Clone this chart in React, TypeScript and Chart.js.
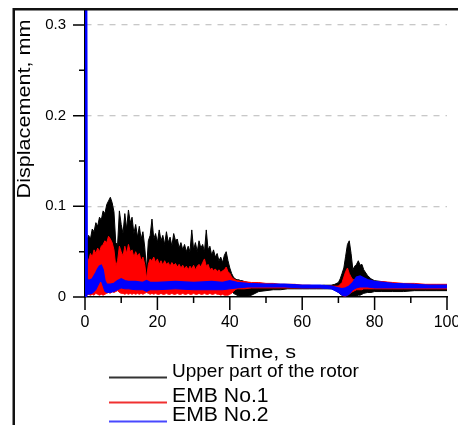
import React, { useEffect, useRef } from 'react';
import { Chart, registerables } from 'chart.js';

Chart.register(...registerables);

// Shared time grid (s) for the rotor and EMB No.1 envelopes
const timeFine = [
  0, 0.5, 1, 1.5, 2, 2.5, 3, 3.5, 4, 4.5,
  5, 5.5, 6, 6.5, 7, 7.5, 8, 8.5, 9, 9.5,
  10, 10.5, 11, 11.5, 12, 12.5, 13, 13.5, 14, 14.5,
  15, 15.5, 16, 16.5, 17, 17.5, 18, 18.5, 19, 19.5,
  20, 20.5, 21, 21.5, 22, 22.5, 23, 23.5, 24, 24.5,
  25, 25.5, 26, 26.5, 27, 27.5, 28, 28.5, 29, 29.5,
  30, 30.5, 31, 31.5, 32, 32.5, 33, 33.5, 34, 34.5,
  35, 35.5, 36, 36.5, 37, 37.5, 38, 38.5, 39, 39.5,
  40, 40.5, 41, 41.5, 42, 42.5, 43, 43.5, 44,
  46, 48, 50, 52, 54, 56, 58, 60, 62, 64, 66, 68,
  69, 70, 70.5, 71, 71.5, 72, 72.5, 73, 73.5, 74, 74.5, 75, 75.5, 76, 76.5, 77, 78, 79, 80,
  82, 85, 88, 91, 94, 97, 100,
];

// Upper part of the rotor: upper / lower envelope (mm)
const rotorUpper = [
  0.055, 0.062, 0.068, 0.064, 0.075, 0.072, 0.082, 0.078, 0.088, 0.085,
  0.095, 0.092, 0.102, 0.106, 0.110, 0.104, 0.094, 0.060, 0.058, 0.095,
  0.080, 0.070, 0.092, 0.075, 0.096, 0.082, 0.088, 0.070, 0.080, 0.066,
  0.078, 0.064, 0.072, 0.055, 0.030, 0.062, 0.068, 0.086, 0.064, 0.070,
  0.060, 0.074, 0.062, 0.068, 0.058, 0.072, 0.060, 0.066, 0.056, 0.070,
  0.062, 0.064, 0.054, 0.060, 0.052, 0.058, 0.050, 0.056, 0.050, 0.074,
  0.052, 0.060, 0.050, 0.062, 0.054, 0.058, 0.050, 0.074, 0.052, 0.056,
  0.046, 0.052, 0.044, 0.048, 0.040, 0.044, 0.038, 0.046, 0.050, 0.040,
  0.032, 0.026, 0.022, 0.020, 0.019, 0.019, 0.018, 0.018, 0.017,
  0.015, 0.015, 0.014, 0.014, 0.013, 0.013, 0.012, 0.012, 0.012, 0.012, 0.013, 0.013,
  0.014, 0.016, 0.020, 0.026, 0.032, 0.045, 0.058, 0.062, 0.048, 0.030, 0.034, 0.036, 0.040, 0.035, 0.036, 0.030, 0.024, 0.020, 0.018,
  0.017, 0.015, 0.014, 0.014, 0.013, 0.013, 0.013,
];
const rotorLower = [
  0.010, 0.010, 0.010, 0.010, 0.010, 0.010, 0.010, 0.010, 0.010, 0.010,
  0.010, 0.010, 0.010, 0.010, 0.010, 0.010, 0.010, 0.010, 0.010, 0.010,
  0.010, 0.010, 0.010, 0.010, 0.010, 0.010, 0.010, 0.010, 0.010, 0.010,
  0.010, 0.010, 0.010, 0.010, 0.010, 0.010, 0.010, 0.010, 0.010, 0.010,
  0.010, 0.010, 0.010, 0.010, 0.010, 0.010, 0.010, 0.010, 0.010, 0.010,
  0.010, 0.010, 0.010, 0.010, 0.010, 0.010, 0.010, 0.010, 0.010, 0.010,
  0.010, 0.010, 0.010, 0.010, 0.010, 0.010, 0.010, 0.010, 0.010, 0.010,
  0.010, 0.010, 0.010, 0.010, 0.010, 0.010, 0.010, 0.010, 0.010, 0.010,
  0.008, 0.006, 0.004, 0.003, 0.002, 0.001, 0.000, 0.000, 0.000,
  0.002, 0.006, 0.007, 0.008, 0.008, 0.009, 0.009, 0.009, 0.009, 0.009, 0.009, 0.009,
  0.008, 0.005, 0.003, 0.002, 0.001, 0.001, 0.001, 0.001, 0.001, 0.001, 0.001, 0.001, 0.002, 0.002, 0.003, 0.004, 0.005, 0.005, 0.006,
  0.006, 0.006, 0.006, 0.007, 0.007, 0.007, 0.007,
];

// EMB No.1: upper / lower envelope (mm)
const emb1Upper = [
  0.030, 0.045, 0.040, 0.048, 0.044, 0.052, 0.048, 0.054, 0.050, 0.056,
  0.058, 0.062, 0.060, 0.067, 0.064, 0.060, 0.052, 0.034, 0.040, 0.056,
  0.050, 0.045, 0.056, 0.048, 0.058, 0.050, 0.052, 0.044, 0.050, 0.045,
  0.048, 0.040, 0.044, 0.036, 0.020, 0.036, 0.042, 0.040, 0.044, 0.038,
  0.042, 0.036, 0.040, 0.035, 0.040, 0.036, 0.038, 0.034, 0.038, 0.035,
  0.037, 0.033, 0.036, 0.032, 0.035, 0.031, 0.034, 0.030, 0.034, 0.031,
  0.035, 0.030, 0.034, 0.036, 0.033, 0.038, 0.042, 0.034, 0.036, 0.030,
  0.032, 0.029, 0.031, 0.028, 0.030, 0.027, 0.029, 0.030, 0.033, 0.028,
  0.026, 0.022, 0.020, 0.019, 0.018, 0.018, 0.017, 0.017, 0.017,
  0.016, 0.016, 0.015, 0.015, 0.014, 0.014, 0.014, 0.013, 0.013, 0.012, 0.012, 0.012,
  0.012, 0.012, 0.014, 0.016, 0.022, 0.028, 0.032, 0.026, 0.022, 0.019, 0.019, 0.019, 0.020, 0.020, 0.020, 0.019, 0.018, 0.018, 0.017,
  0.017, 0.016, 0.015, 0.015, 0.014, 0.014, 0.014,
];
const emb1Lower = [
  0.000, 0.002, 0.003, 0.002, 0.003, 0.002, 0.004, 0.003, 0.002, 0.003,
  0.002, 0.003, 0.004, 0.005, 0.004, 0.006, 0.005, 0.006, 0.007, 0.005,
  0.004, 0.004, 0.003, 0.004, 0.003, 0.004, 0.003, 0.004, 0.003, 0.004,
  0.003, 0.004, 0.003, 0.004, 0.005, 0.004, 0.003, 0.004, 0.003, 0.004,
  0.003, 0.003, 0.004, 0.003, 0.003, 0.004, 0.003, 0.003, 0.004, 0.003,
  0.003, 0.004, 0.003, 0.003, 0.004, 0.003, 0.003, 0.004, 0.003, 0.003,
  0.004, 0.003, 0.003, 0.004, 0.003, 0.003, 0.004, 0.003, 0.003, 0.004,
  0.003, 0.003, 0.004, 0.003, 0.003, 0.002, 0.003, 0.002, 0.002, 0.002,
  0.003, 0.004, 0.006, 0.008, 0.009, 0.009, 0.009, 0.009, 0.009,
  0.010, 0.010, 0.010, 0.010, 0.010, 0.010, 0.010, 0.010, 0.010, 0.010, 0.010, 0.010,
  0.009, 0.006, 0.004, 0.002, 0.001, 0.001, 0.002, 0.003, 0.005, 0.006, 0.007, 0.008, 0.008, 0.008, 0.008, 0.009, 0.009, 0.009, 0.009,
  0.009, 0.009, 0.009, 0.009, 0.009, 0.009, 0.009,
];

// EMB No.2: time grid and upper / lower envelope (mm)
const emb2Time = [
  0, 0.45, 0.6, 1, 2, 3, 3.5, 4, 4.5, 5, 5.5,
  6, 7, 8, 9, 10, 11, 12, 14, 16, 17,
  18, 20, 25, 30, 35, 38, 40, 42, 45, 50,
  55, 60, 65, 68, 70, 71, 72, 73, 74, 75,
  76, 77, 78, 80, 85, 90, 95, 100,
];
const emb2Upper = [
  0.330, 0.330, 0.020, 0.018, 0.020, 0.027, 0.031, 0.034, 0.035, 0.030, 0.018,
  0.014, 0.014, 0.015, 0.018, 0.020, 0.018, 0.017, 0.017, 0.016, 0.018,
  0.016, 0.016, 0.017, 0.016, 0.017, 0.016, 0.018, 0.016, 0.015, 0.014,
  0.014, 0.013, 0.013, 0.012, 0.010, 0.009, 0.010, 0.012, 0.016, 0.022,
  0.023, 0.021, 0.019, 0.017, 0.015, 0.014, 0.013, 0.013,
];
const emb2Lower = [
  0.000, 0.000, 0.003, 0.003, 0.004, 0.008, 0.012, 0.016, 0.018, 0.012, 0.006,
  0.005, 0.005, 0.006, 0.008, 0.010, 0.009, 0.009, 0.008, 0.008, 0.006,
  0.008, 0.008, 0.009, 0.008, 0.008, 0.008, 0.009, 0.010, 0.011, 0.011,
  0.011, 0.010, 0.010, 0.009, 0.005, 0.002, 0.001, 0.003, 0.008, 0.010,
  0.011, 0.011, 0.011, 0.010, 0.010, 0.010, 0.010, 0.010,
];

const yTickValues = [0, 0.1, 0.2, 0.3];
const yTickLabels = ['0', '0.1', '0.2', '0.3'];
const yMinorValues = [0.05, 0.15, 0.25];
const xTickValues = [0, 20, 40, 60, 80, 100];
const xTickLabels = ['0', '20', '40', '60', '80', '100'];
const xMinorValues = [10, 30, 50, 70, 90];

const seriesNames = ['Upper part of the rotor', 'EMB No.1', 'EMB No.2'];
const seriesColors = ['#000000', '#ff0000', '#0000ff'];
const legendColors = ['#333333', '#f03030', '#4848ff'];
const xTitle = 'Time, s';
const yTitle = 'Displacement, mm';

const FONT = '"Liberation Sans", Arial, Helvetica, sans-serif';

const pts = (t: number[], v: number[]) => t.map((x, i) => ({ x, y: v[i] }));

const zeroPadding = (s: any) => {
  s.paddingTop = 0;
  s.paddingBottom = 0;
  s.paddingLeft = 0;
  s.paddingRight = 0;
};

const decorPlugin = {
  id: 'decor',
  afterDraw(chart: any) {
    const ctx = chart.ctx as CanvasRenderingContext2D;
    const xs = chart.scales.x;
    const ys = chart.scales.y;
    const left = chart.chartArea.left;
    const bottom = chart.chartArea.bottom;
    ctx.save();
    // tick marks
    ctx.strokeStyle = '#000';
    ctx.lineWidth = 1.5;
    ctx.beginPath();
    for (const v of yTickValues) {
      const py = ys.getPixelForValue(v);
      ctx.moveTo(left - 12, py);
      ctx.lineTo(left, py);
    }
    for (const v of yMinorValues) {
      const py = ys.getPixelForValue(v);
      ctx.moveTo(left - 6, py);
      ctx.lineTo(left, py);
    }
    for (const v of xTickValues) {
      const px = xs.getPixelForValue(v);
      ctx.moveTo(px, bottom);
      ctx.lineTo(px, bottom + 13);
    }
    for (const v of xMinorValues) {
      const px = xs.getPixelForValue(v);
      ctx.moveTo(px, bottom);
      ctx.lineTo(px, bottom + 6);
    }
    ctx.stroke();

    // frame lines
    ctx.fillStyle = '#111';
    ctx.fillRect(13, 8, 445, 2.5);
    ctx.fillRect(12.5, 8, 2.5, 417);

    // axis titles
    ctx.fillStyle = '#000';
    ctx.textBaseline = 'alphabetic';
    ctx.textAlign = 'center';
    ctx.font = `18px ${FONT}`;
    ctx.save();
    ctx.translate(261, 358);
    ctx.scale(1.2, 1);
    ctx.fillText(xTitle, 0, 0);
    ctx.restore();
    ctx.save();
    ctx.translate(29.5, 109);
    ctx.rotate(-Math.PI / 2);
    ctx.scale(1.2, 1);
    ctx.fillText(yTitle, 0, 0);
    ctx.restore();

    // legend
    const rows = [
      { base: 377, size: 19, sx: 1.0 },
      { base: 402, size: 20, sx: 1.06 },
      { base: 421, size: 20, sx: 1.06 },
    ];
    ctx.textAlign = 'left';
    rows.forEach((r, i) => {
      ctx.strokeStyle = legendColors[i];
      ctx.lineWidth = 2;
      ctx.beginPath();
      ctx.moveTo(109, r.base + 0.5);
      ctx.lineTo(167, r.base + 0.5);
      ctx.stroke();
      ctx.fillStyle = '#000';
      ctx.font = `${r.size}px ${FONT}`;
      ctx.save();
      ctx.translate(172, r.base);
      ctx.scale(r.sx, 1);
      ctx.fillText(seriesNames[i], 0, 0);
      ctx.restore();
    });
    ctx.restore();
  },
};

export default function App() {
  const ref = useRef<HTMLCanvasElement | null>(null);
  useEffect(() => {
    document.body.style.margin = '0';
    if (!ref.current) return;
    const band = (name: string, color: string, t: number[], hi: number[], lo: number[], hiWidth: number) => [
      {
        label: name + ' max',
        data: pts(t, hi),
        borderColor: color,
        backgroundColor: color,
        borderWidth: hiWidth,
        pointRadius: 0,
        fill: false,
      },
      {
        label: name + ' min',
        data: pts(t, lo),
        borderColor: color,
        backgroundColor: color,
        borderWidth: 1,
        pointRadius: 0,
        fill: '-1',
      },
    ];
    const chart = new Chart(ref.current, {
      type: 'line',
      data: {
        datasets: [
          ...band(seriesNames[2], seriesColors[2], emb2Time, emb2Upper, emb2Lower, 1.5),
          ...band(seriesNames[1], seriesColors[1], timeFine, emb1Upper, emb1Lower, 1),
          ...band(seriesNames[0], seriesColors[0], timeFine, rotorUpper, rotorLower, 1),
        ] as any,
      },
      options: {
        responsive: false,
        animation: false,
        devicePixelRatio: 1,
        layout: { padding: { top: 10, right: 11, left: 0, bottom: 0 }, autoPadding: false },
        plugins: { legend: { display: false }, tooltip: { enabled: false } },
        elements: { line: { tension: 0 }, point: { radius: 0 } },
        scales: {
          x: {
            type: 'linear',
            min: 0,
            max: 100,
            afterFit: (s: any) => { s.height = 128; zeroPadding(s); },
            afterBuildTicks: (s: any) => { s.ticks = xTickValues.map((v) => ({ value: v })); },
            grid: { display: false, drawTicks: false },
            border: { display: true, color: '#000', width: 1.5 },
            ticks: {
              padding: 16,
              color: '#000',
              autoSkip: false,
              maxRotation: 0,
              font: { family: FONT, size: 16 },
              callback: (v: any) => xTickLabels[xTickValues.indexOf(Number(v))] ?? '',
            },
          },
          y: {
            type: 'linear',
            min: 0,
            max: 0.3166,
            afterFit: (s: any) => { s.width = 85; zeroPadding(s); },
            afterBuildTicks: (s: any) => { s.ticks = yTickValues.map((v) => ({ value: v })); },
            grid: {
              drawTicks: false,
              lineWidth: 1.3,
              color: (c: any) => (c.tick && c.tick.value === 0 ? 'rgba(0,0,0,0)' : '#c8c8c8'),
            },
            border: { display: true, color: '#000', width: 1.5, dash: [6, 6] },
            ticks: {
              padding: 19,
              color: '#000',
              font: { family: FONT, size: 15 },
              callback: (v: any) => {
                const i = yTickValues.findIndex((t) => Math.abs(t - Number(v)) < 1e-9);
                return i >= 0 ? yTickLabels[i] : '';
              },
            },
          },
        },
      } as any,
      plugins: [decorPlugin as any],
    });
    return () => chart.destroy();
  }, []);
  return (
    <div style={{ width: 458, height: 425, position: 'relative', background: '#fff' }}>
      <canvas ref={ref} width={458} height={425} style={{ display: 'block' }} />
    </div>
  );
}
